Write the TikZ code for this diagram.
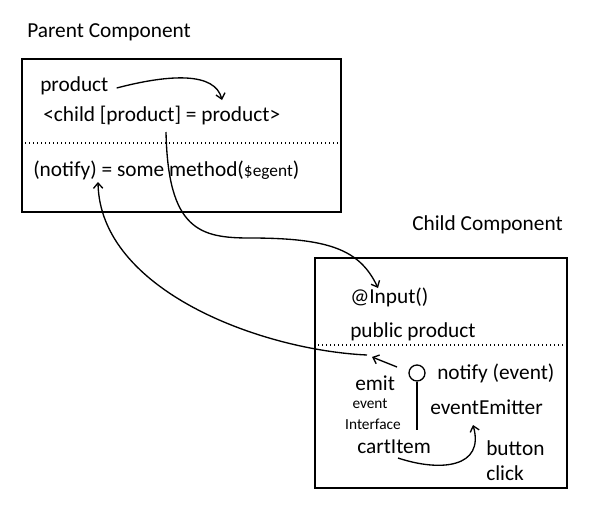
\documentclass[tikz,border=0pt]{standalone}
\usepackage{fontspec}
\setmainfont{Carlito}
\usetikzlibrary{arrows.meta,positioning}

\begin{document}
\begin{tikzpicture}[x=0.75pt, y=-0.75pt,
    box/.style={draw, line width=1.5pt, anchor=north west, inner sep=0pt},
    txt/.style={font=\fontsize{16}{18}\selectfont, inner sep=0pt, anchor=west},
    sml/.style={font=\fontsize{11.5}{13}\selectfont, inner sep=0pt},
    sep/.style={dotted, line width=1pt},
    arr/.style={-{Straight Barb[length=4pt,width=7pt]}, line width=1pt}
  ]
    \useasboundingbox (0,0) rectangle (591,507);
    % parent
    \node[txt] (ptitle) at (27,32) {Parent Component};
    \node[box, minimum width=239.25pt, minimum height=114.75pt] (parent) at (21,58) {};
    \draw[sep] (21,143) -- (340,143);
    \node[txt] (prod) at (40,86) {product};
    \node[txt] (bind) at (43,116) {<child [product] = product>};
    \node[txt] (notify) at (33,170) {(notify) = some method({\fontsize{13}{14}\selectfont\$egent})};
    % child
    \node[txt] (ctitle) at (412,225) {Child Component};
    \node[box, minimum width=189pt, minimum height=172.5pt] (child) at (314,257) {};
    \draw[sep] (314,345) -- (566,345);
    \node[txt] (input) at (350,297) {@Input()};
    \node[txt] (pub) at (350,332) {public product};
    \node[draw, circle, line width=1pt, minimum size=12pt, inner sep=0pt] (ring) at (417,373) {};
    \coordinate (stem) at (417,430);
    \node[txt] (notev) at (437,373) {notify (event)};
    \node[txt] (emit) at (355,383) {emit};
    \node[sml] (ev) at (370,404) {event};
    \node[sml] (iface) at (373,424) {Interface};
    \node[txt] (emitter) at (430,407) {eventEmitter};
    \node[txt] (cart) at (357,447) {cartItem};
    \node[txt] (btn) at (486,448) {button};
    \node[txt] (click) at (486,473) {click};
    % connectors
    \coordinate (dst1) at (222,100);
    \coordinate (src2) at (166,132);
    \coordinate (dst2) at (378,288);
    \coordinate (src3) at (367,355);
    \coordinate (dst3) at (98,182);
    \coordinate (src4) at (397,367);
    \coordinate (dst4) at (372,357);
    \coordinate (src5) at (398,458);
    \coordinate (dst5) at (473,425);
    \draw[line width=1pt] (ring) -- (stem);
    \draw[arr] ([xshift=6pt,yshift=-1.5pt]prod.east) .. controls (170,74) and (215,72) .. (dst1);
    \draw[arr] (src2) .. controls (168,230) and (200,238) .. (250,238)
                      .. controls (330,238) and (360,250) .. (dst2);
    \draw[arr] (src3) .. controls (260,350) and (100,290) .. (dst3);
    \draw[arr] (src4) -- (dst4);
    \draw[arr] (src5) .. controls (440,472) and (485,468) .. (dst5);
\end{tikzpicture}
\end{document}
